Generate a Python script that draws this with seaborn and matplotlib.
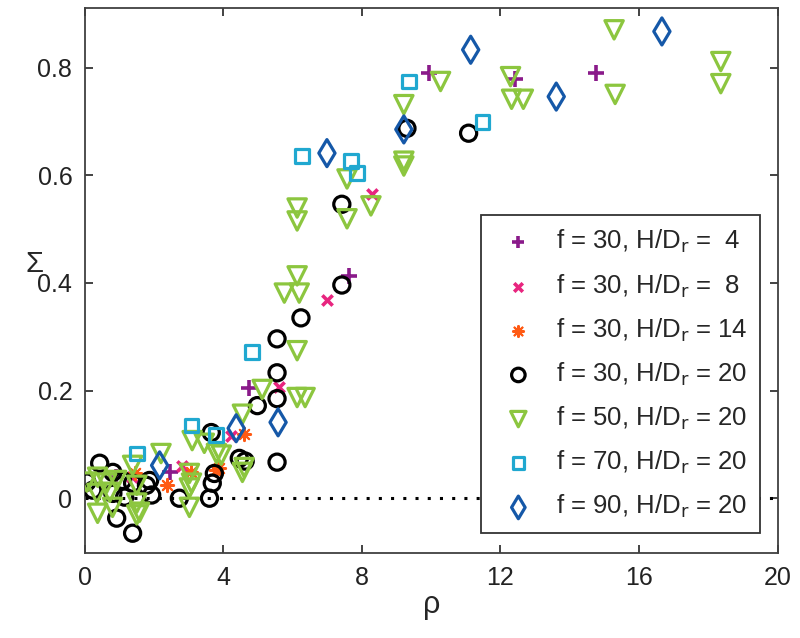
import numpy as np
import pandas as pd
import matplotlib
matplotlib.use("Agg")
import matplotlib.pyplot as plt
import seaborn as sns

# series data (rho, Sigma)
rho_f30_h4 = [0.9, 2.45, 4.75, 7.63, 9.93, 12.43, 14.76]
sig_f30_h4 = [0.04, 0.048, 0.204, 0.413, 0.789, 0.778, 0.789]

rho_f30_h8 = [1.35, 2.8, 4.23, 5.6, 7.0, 8.3]
sig_f30_h8 = [0.04, 0.06, 0.115, 0.206, 0.369, 0.565]

rho_f30_h14 = [1.44, 2.36, 3.08, 3.8, 3.88, 4.6]
sig_f30_h14 = [0.046, 0.024, 0.048, 0.052, 0.057, 0.12]

rho_f30_h20 = [0.06, 0.43, 0.81, 1.09, 0.23, 0.81, 1.15, 0.92, 1.38, 1.38,
               1.87, 1.78, 1.93, 2.73, 3.6, 3.68, 3.74, 3.65, 4.46, 4.63,
               5.55, 4.98, 5.55, 5.55, 5.55, 6.24, 7.42, 7.42, 9.3, 11.08]
sig_f30_h20 = [0.030, 0.065, 0.048, 0.033, 0.015, 0.009, 0.002, -0.037, -0.065, 0.028,
               0.033, 0.024, 0.006, 0.0, 0.0, 0.028, 0.046, 0.122, 0.074, 0.069,
               0.067, 0.172, 0.185, 0.233, 0.296, 0.335, 0.396, 0.546, 0.687, 0.678]

rho_f50_h20 = [0.06, 0.37, 0.63, 0.92, 0.35, 0.72, 0.37, 0.8, 1.5, 1.5,
               1.5, 1.38, 1.58, 2.2, 3.02, 3.08, 3.02, 3.02, 3.1, 3.45,
               3.8, 3.94, 4.6, 4.55, 4.55, 5.12, 6.13, 6.36, 6.13, 5.76,
               6.19, 6.13, 6.13, 6.13, 7.57, 7.57, 8.26, 9.21, 9.21, 9.21,
               10.27, 12.29, 12.32, 12.66, 15.28, 15.31, 18.36, 18.36]
sig_f50_h20 = [0.030, 0.039, 0.028, 0.033, 0.009, 0.011, -0.028, -0.017, 0.024, -0.009,
               -0.031, 0.061, -0.026, 0.083, 0.046, 0.028, 0.019, -0.017, 0.107, 0.102,
               0.083, 0.080, 0.057, 0.048, 0.156, 0.202, 0.187, 0.187, 0.274, 0.381,
               0.381, 0.413, 0.539, 0.515, 0.519, 0.593, 0.543, 0.626, 0.617, 0.731,
               0.774, 0.783, 0.741, 0.741, 0.870, 0.750, 0.811, 0.770]

rho_f70_h20 = [1.5, 3.08, 3.8, 4.83, 6.27, 7.68, 7.86, 9.35, 11.48]
sig_f70_h20 = [0.083, 0.135, 0.117, 0.272, 0.635, 0.626, 0.604, 0.774, 0.698]

rho_f90_h20 = [2.16, 4.37, 5.58, 6.99, 9.21, 11.14, 13.61, 16.66]
sig_f90_h20 = [0.061, 0.13, 0.141, 0.641, 0.685, 0.833, 0.746, 0.867]

labels = ["f = 30, H/D$_\\mathrm{r}$ =  4", "f = 30, H/D$_\\mathrm{r}$ =  8",
          "f = 30, H/D$_\\mathrm{r}$ = 14", "f = 30, H/D$_\\mathrm{r}$ = 20",
          "f = 50, H/D$_\\mathrm{r}$ = 20", "f = 70, H/D$_\\mathrm{r}$ = 20",
          "f = 90, H/D$_\\mathrm{r}$ = 20"]

sns.set_theme(style="ticks")
plt.rcParams['font.family'] = ['Liberation Sans', 'DejaVu Sans']
plt.rcParams['mathtext.default'] = 'regular'

fig = plt.figure(figsize=(8, 6.38), dpi=100)
ax = fig.add_axes([0.106, 0.133, 0.866, 0.854])

ax.plot([0, 20], [0, 0], ls=(0, (1, 3)), color='black', lw=2.2, zorder=1)

series = [
    (rho_f30_h4, sig_f30_h4, '+', '#8a1a8a', 120, False),
    (rho_f30_h8, sig_f30_h8, 'x', '#e8257f', 55, False),
    (rho_f30_h14, sig_f30_h14, (8, 2, 0), '#ff5a14', 90, True),
    (rho_f30_h20, sig_f30_h20, 'o', 'black', 135, None),
    (rho_f50_h20, sig_f50_h20, 'v', '#8cc63f', 175, None),
    (rho_f70_h20, sig_f70_h20, 's', '#20a8d0', 100, None),
    (rho_f90_h20, sig_f90_h20, 'd', '#1558a8', 190, None),
]

for (xs, ys, mk, col, size, filled), lab in zip(series, labels):
    df = pd.DataFrame({'rho': xs, 'sigma': ys})
    if filled is None:
        sns.scatterplot(data=df, x='rho', y='sigma', marker=mk, s=size, ax=ax,
                        facecolor='none', edgecolor=col, linewidth=2.3,
                        label=lab, zorder=3)
    elif filled:
        sns.scatterplot(data=df, x='rho', y='sigma', marker=mk, s=size, ax=ax,
                        color=col, edgecolor=col, linewidth=1.5,
                        label=lab, zorder=3)
    else:
        sns.scatterplot(data=df, x='rho', y='sigma', marker=mk, s=size, ax=ax,
                        color=col, linewidth=2.6, label=lab, zorder=3)

ax.set_xlim(0, 20)
ax.set_ylim(-0.102, 0.91)
ax.set_xticks([0, 4, 8, 12, 16, 20])
ax.set_yticks([0, 0.2, 0.4, 0.6, 0.8])
ax.set_yticklabels(['0', '0.2', '0.4', '0.6', '0.8'])
ax.tick_params(direction='in', top=True, right=True, length=6, width=1.2,
               labelsize=18, colors='#222222', pad=9)
for sp in ax.spines.values():
    sp.set_visible(True)
    sp.set_color('#404040')
    sp.set_linewidth(1.3)

ax.set_xlabel('ρ', fontsize=22, labelpad=0)
ax.set_ylabel('Σ', fontsize=21, rotation=0, va='center', ha='center')
ax.yaxis.set_label_coords(-0.072, 0.53)

leg = ax.legend(loc='lower right', bbox_to_anchor=(0.993, 0.013), fontsize=18.5,
                frameon=True, fancybox=False, framealpha=1, labelspacing=0.66,
                handletextpad=0.5, borderpad=0.5, handlelength=1.9)
leg.get_frame().set_edgecolor('#333333')
leg.get_frame().set_linewidth(1.3)
for h in leg.legend_handles:
    h.set_sizes([h.get_sizes()[0] * 0.7])

fig.savefig('out.png', dpi=100)
